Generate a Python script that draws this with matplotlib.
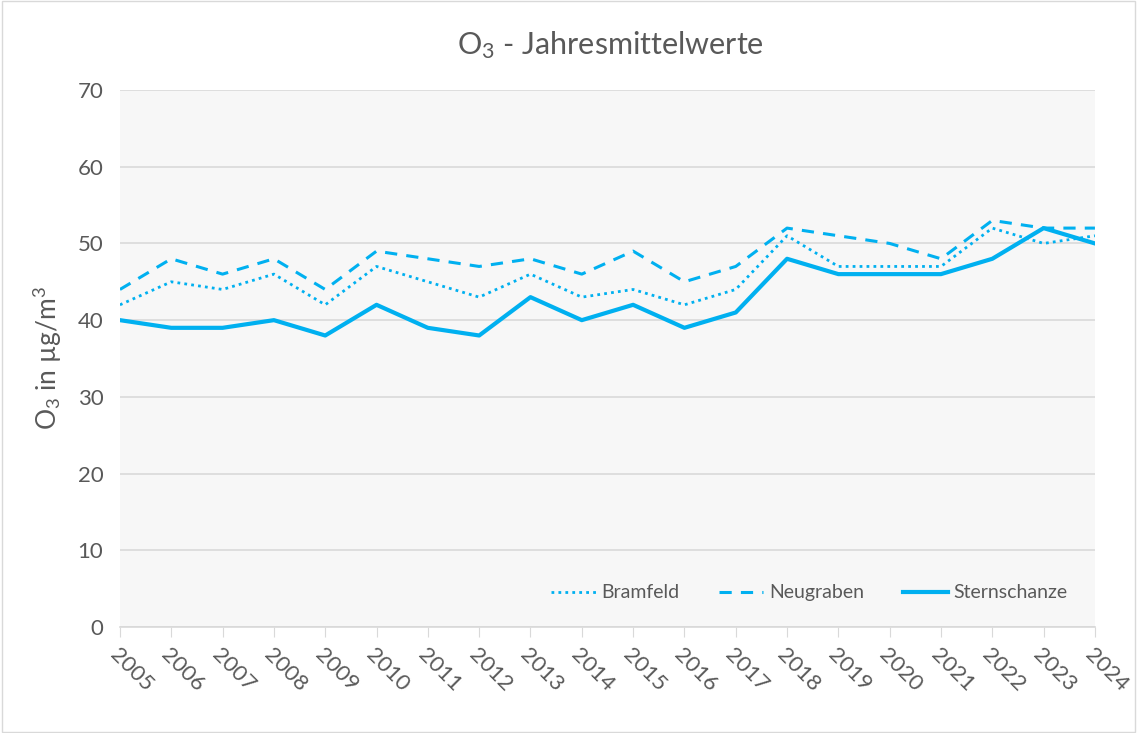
import matplotlib
matplotlib.use("Agg")
from matplotlib import pyplot as plt
from matplotlib.patches import Rectangle

plt.rcParams['font.family'] = ['Lato', 'DejaVu Sans']
plt.rcParams['mathtext.fontset'] = 'custom'
plt.rcParams['mathtext.rm'] = 'Lato'
plt.rcParams['mathtext.it'] = 'Lato'
plt.rcParams['mathtext.default'] = 'rm'

years = list(range(2005, 2025))
bramfeld = [42, 45, 44, 46, 42, 47, 45, 43, 46, 43, 44, 42, 44, 51, 47, 47, 47, 52, 50, 51]
neugraben = [44, 48, 46, 48, 44, 49, 48, 47, 48, 46, 49, 45, 47, 52, 51, 50, 48, 53, 52, 52]
sternschanze = [40, 39, 39, 40, 38, 42, 39, 38, 43, 40, 42, 39, 41, 48, 46, 46, 46, 48, 52, 50]

blue = '#00B0F0'
grey_txt = '#595959'
grid_c = '#D9D9D9'

fig = plt.figure(figsize=(11.37, 7.33), dpi=100)
fig.patches.append(Rectangle((0.002, 0.002), 0.996, 0.996, transform=fig.transFigure,
                             fill=False, edgecolor=grid_c, linewidth=1))
ax = fig.add_axes([0.1055, 0.1446, 0.8575, 0.7326])
ax.set_facecolor('#F7F7F7')

ax.plot(years, bramfeld, color=blue, lw=2, linestyle=(0, (1, 1.5)), label='Bramfeld')
ax.plot(years, neugraben, color=blue, lw=2.2, linestyle=(0, (4, 3)), label='Neugraben')
ax.plot(years, sternschanze, color=blue, lw=3, label='Sternschanze')

ax.set_xlim(years[0], years[-1])
ax.set_ylim(0, 70)
ax.set_yticks(range(0, 71, 10))
ax.set_xticks(years)
ax.set_xticklabels([str(y) for y in years], rotation=-45, ha='left', va='top',
                   rotation_mode='anchor')
ax.grid(axis='y', color=grid_c, lw=1.2)
ax.set_axisbelow(True)
for s in ['top', 'right', 'left']:
    ax.spines[s].set_visible(False)
ax.spines['bottom'].set_color(grid_c)
ax.spines['bottom'].set_linewidth(1.2)
ax.tick_params(axis='y', length=0, labelsize=16, labelcolor=grey_txt, pad=12)
ax.tick_params(axis='x', direction='out', length=7, color=grid_c, labelsize=16,
               labelcolor=grey_txt, pad=6)

ax.set_ylabel(r'O$_3$ in µg/m$^3$', fontsize=19, color=grey_txt, labelpad=10)
fig.text(0.537, 0.938, r'O$_3$ - Jahresmittelwerte', fontsize=22, color=grey_txt,
         ha='center', va='center')

leg = ax.legend(loc='lower right', ncol=3, frameon=False, fontsize=14,
                handlelength=2.3, handletextpad=0.3, columnspacing=2.0,
                bbox_to_anchor=(0.99, 0.015))
for t in leg.get_texts():
    t.set_color(grey_txt)

fig.savefig('out.png', dpi=100)
